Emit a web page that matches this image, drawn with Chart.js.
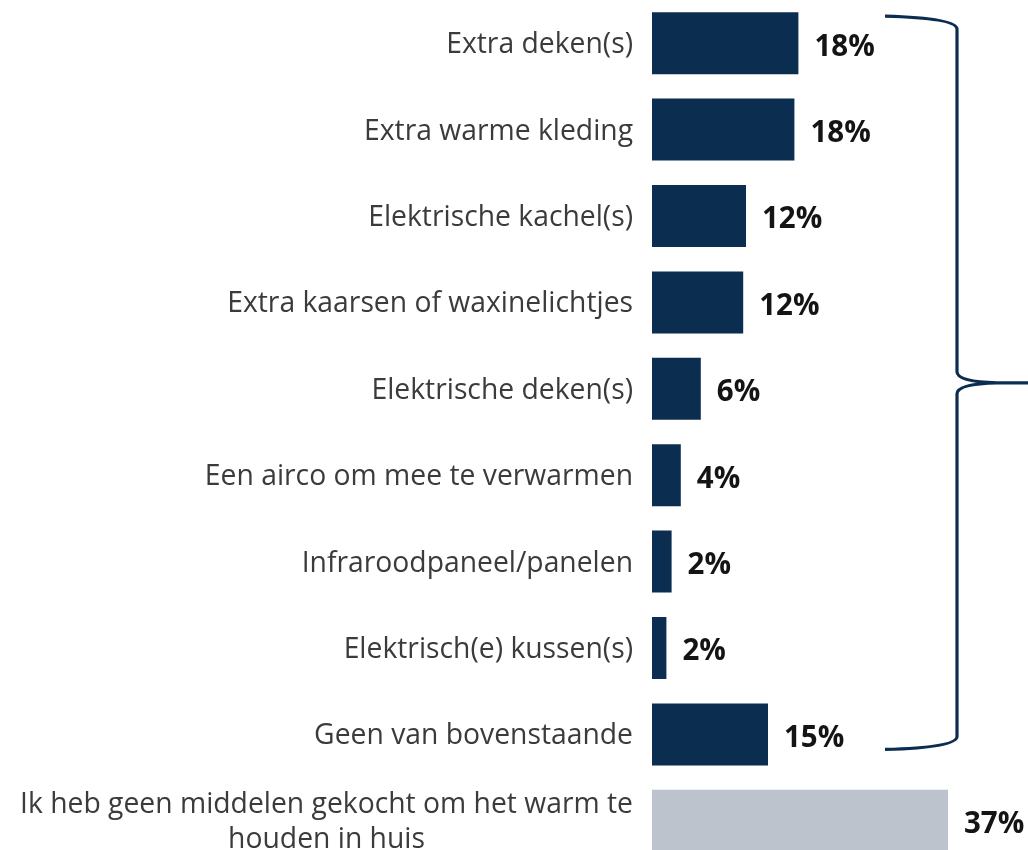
<!DOCTYPE html>
<html>
<head>
<meta charset="utf-8">
<script src="https://cdn.jsdelivr.net/npm/chart.js@4"></script>
<style>
  html, body { margin: 0; padding: 0; background: #fff; overflow: hidden; }
  #wrap { width: 1028px; height: 864px; }
</style>
</head>
<body>
<div id="wrap"><canvas id="heatChart" width="1028" height="864"></canvas></div>
<script>
// categories (last one wraps over two lines)
const labels = [
  "Extra deken(s)",
  "Extra warme kleding",
  "Elektrische kachel(s)",
  "Extra kaarsen of waxinelichtjes",
  "Elektrische deken(s)",
  "Een airco om mee te verwarmen",
  "Infraroodpaneel/panelen",
  "Elektrisch(e) kussen(s)",
  "Geen van bovenstaande",
  ["Ik heb geen middelen gekocht om het warm te", "houden in huis"],
];
// bar lengths (percent)
const values = [18.3, 17.8, 11.75, 11.4, 6.1, 3.6, 2.45, 1.8, 14.5, 37.0];
// printed value labels
const shownPct = ["18%", "18%", "12%", "12%", "6%", "4%", "2%", "2%", "15%", "37%"];

const navy = "#0b2d50";
const grey = "#bcc3cc";
const barColors = values.map((v, i) => (i === values.length - 1 ? grey : navy));

const FONT = "'Open Sans', 'Noto Sans', sans-serif";

// left labels + value labels drawn next to the bars
const textPlugin = {
  id: "barTexts",
  afterDatasetsDraw(chart) {
    const ctx = chart.ctx;
    const meta = chart.getDatasetMeta(0);
    const area = chart.chartArea;
    ctx.save();
    ctx.textBaseline = "middle";
    meta.data.forEach((bar, i) => {
      // category label
      ctx.font = "28.3px " + FONT;
      ctx.fillStyle = "#3b3b3b";
      const lab = labels[i];
      const xr = area.left - 19;
      if (Array.isArray(lab)) {
        const widths = lab.map(l => ctx.measureText(l).width);
        const w = Math.max(...widths);
        const cx = xr - w / 2;
        const lh = 35;
        ctx.textAlign = "center";
        lab.forEach((l, k) => {
          ctx.fillText(l, cx, bar.y + 2 + (k - (lab.length - 1) / 2) * lh);
        });
      } else {
        ctx.textAlign = "right";
        ctx.fillText(lab, xr, bar.y + 2);
      }
      // value label
      ctx.font = "bold 29.5px " + FONT;
      ctx.fillStyle = "#141414";
      ctx.textAlign = "left";
      ctx.fillText(shownPct[i], bar.x + 16, bar.y + 4);
    });
    ctx.restore();
  },
};

// curly brace around the first nine bars
const bracePlugin = {
  id: "brace",
  afterDraw(chart) {
    const ctx = chart.ctx;
    const meta = chart.getDatasetMeta(0);
    const area = chart.chartArea;
    const top = meta.data[0].y - 27;
    const bot = meta.data[8].y + 15;
    const mid = (top + bot) / 2;
    const xl = area.right - 143;
    const xv = area.right - 71;
    const xt = area.right;
    ctx.save();
    ctx.strokeStyle = navy;
    ctx.lineWidth = 3.2;
    ctx.beginPath();
    ctx.moveTo(xl, top);
    ctx.quadraticCurveTo(xv, top + 2, xv, top + 13);
    ctx.lineTo(xv, mid - 11);
    ctx.quadraticCurveTo(xv, mid - 1, xv + 40, mid);
    ctx.lineTo(xt, mid);
    ctx.moveTo(xt, mid);
    ctx.lineTo(xv + 40, mid);
    ctx.quadraticCurveTo(xv, mid + 1, xv, mid + 11);
    ctx.lineTo(xv, bot - 13);
    ctx.quadraticCurveTo(xv, bot - 2, xl, bot);
    ctx.stroke();
    ctx.restore();
  },
};

const ctx = document.getElementById("heatChart").getContext("2d");
new Chart(ctx, {
  type: "bar",
  data: {
    labels: labels,
    datasets: [
      {
        data: values,
        backgroundColor: barColors,
        borderWidth: 0,
        categoryPercentage: 1,
        barPercentage: 0.718,
      },
    ],
  },
  options: {
    indexAxis: "y",
    responsive: false,
    animation: false,
    layout: { padding: { left: 652, right: 0, top: 0, bottom: 0 } },
    plugins: { legend: { display: false }, tooltip: { enabled: false } },
    scales: {
      x: { display: false, min: 0, max: 47 },
      y: { display: false },
    },
  },
  plugins: [textPlugin, bracePlugin],
});
</script>
</body>
</html>
